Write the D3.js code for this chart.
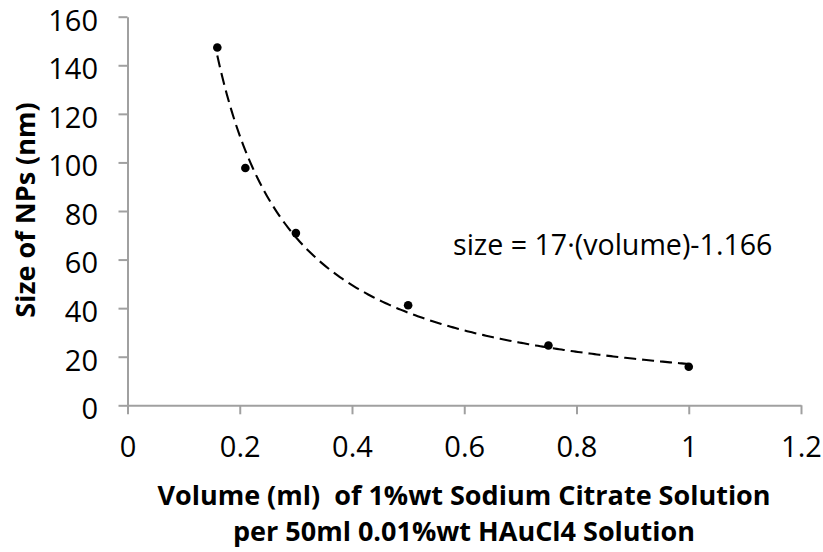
<!DOCTYPE html>
<html>
<head>
<meta charset="utf-8">
<script src="https://cdn.jsdelivr.net/npm/d3@7/dist/d3.min.js"></script>
<style>
  html, body { margin: 0; padding: 0; background: #fff; }
  svg { display: block; }
  text { font-family: "Open Sans", "Noto Sans", sans-serif; fill: #000; }
</style>
</head>
<body>
<svg id="chart" width="823" height="552"></svg>
<script>
// Measured particle sizes against citrate volume
const volumes = [0.16, 0.21, 0.30, 0.50, 0.75, 1.00];
const sizes   = [147.3, 97.7, 70.9, 41.2, 24.6, 15.9];

// Power-law trendline: size = coef * volume^exponent
const fitCoef = 17;
const fitExponent = -1.166;

// Axis ticks
const xTicks = [0, 0.2, 0.4, 0.6, 0.8, 1, 1.2];
const yTicks = [0, 20, 40, 60, 80, 100, 120, 140, 160];

const xTitleLines = [
  "Volume (ml)  of 1%wt Sodium Citrate Solution",
  "per 50ml 0.01%wt HAuCl4 Solution"
];
const yTitle = "Size of NPs (nm)";

const svg = d3.select("#chart");

const x = d3.scaleLinear().domain([0, 1.2]).range([127.5, 801]);
const y = d3.scaleLinear().domain([0, 160]).range([405.3, 16.7]);

const axisColor = "#a0a0a0";
const tickFont = 29;
const titleFont = 27;

// Y axis
const gy = svg.append("g")
  .attr("transform", `translate(${x(0)},0)`)
  .call(d3.axisLeft(y).tickValues(yTicks).tickSize(9).tickSizeOuter(0)
    .tickPadding(20.5).tickFormat(d3.format("")));
gy.selectAll(".domain").attr("stroke", axisColor).attr("stroke-width", 2);
gy.selectAll(".tick line").attr("stroke", axisColor).attr("stroke-width", 2);
gy.selectAll(".tick text")
  .attr("font-size", tickFont)
  .attr("font-family", null)
  .attr("fill", "#000")
  .attr("dy", "0.46em");

// X axis
const gx = svg.append("g")
  .attr("transform", `translate(0,${y(0)})`)
  .call(d3.axisBottom(x).tickValues(xTicks).tickSize(9).tickSizeOuter(0)
    .tickPadding(22).tickFormat(d3.format("")));
gx.selectAll(".domain").attr("stroke", axisColor).attr("stroke-width", 2);
gx.selectAll(".tick line").attr("stroke", axisColor).attr("stroke-width", 2);
gx.selectAll(".tick text")
  .attr("font-size", tickFont)
  .attr("font-family", null)
  .attr("fill", "#000");

// Trendline sampled from the fitted power law over the measured range
const [vMin, vMax] = d3.extent(volumes);
const curve = d3.range(0, 201).map(i => {
  const v = vMin + (vMax - vMin) * i / 200;
  return [v, fitCoef * Math.pow(v, fitExponent)];
});
svg.append("path")
  .datum(curve)
  .attr("fill", "none")
  .attr("stroke", "#000")
  .attr("stroke-width", 2.1)
  .attr("stroke-dasharray", "12,6")
  .attr("d", d3.line().x(d => x(d[0])).y(d => y(d[1])));

// Data points
svg.append("g").selectAll("circle")
  .data(volumes.map((v, i) => [v, sizes[i]]))
  .join("circle")
  .attr("cx", d => x(d[0]))
  .attr("cy", d => y(d[1]))
  .attr("r", 4.3)
  .attr("fill", "#000");

// Equation label
svg.append("text")
  .attr("x", 453)
  .attr("y", 255)
  .attr("font-size", 28.6)
  .text(`size = ${fitCoef}·(volume)${fitExponent}`);

// Axis titles
svg.append("text")
  .attr("transform", "translate(35,210) rotate(-90)")
  .attr("text-anchor", "middle")
  .attr("font-size", titleFont)
  .attr("font-weight", "bold")
  .text(yTitle);

svg.append("g").selectAll("text")
  .data(xTitleLines)
  .join("text")
  .attr("x", 464)
  .attr("y", (d, i) => 505 + i * 36)
  .attr("text-anchor", "middle")
  .attr("font-size", titleFont)
  .attr("font-weight", "bold")
  .style("white-space", "pre")
  .text(d => d);
</script>
</body>
</html>
